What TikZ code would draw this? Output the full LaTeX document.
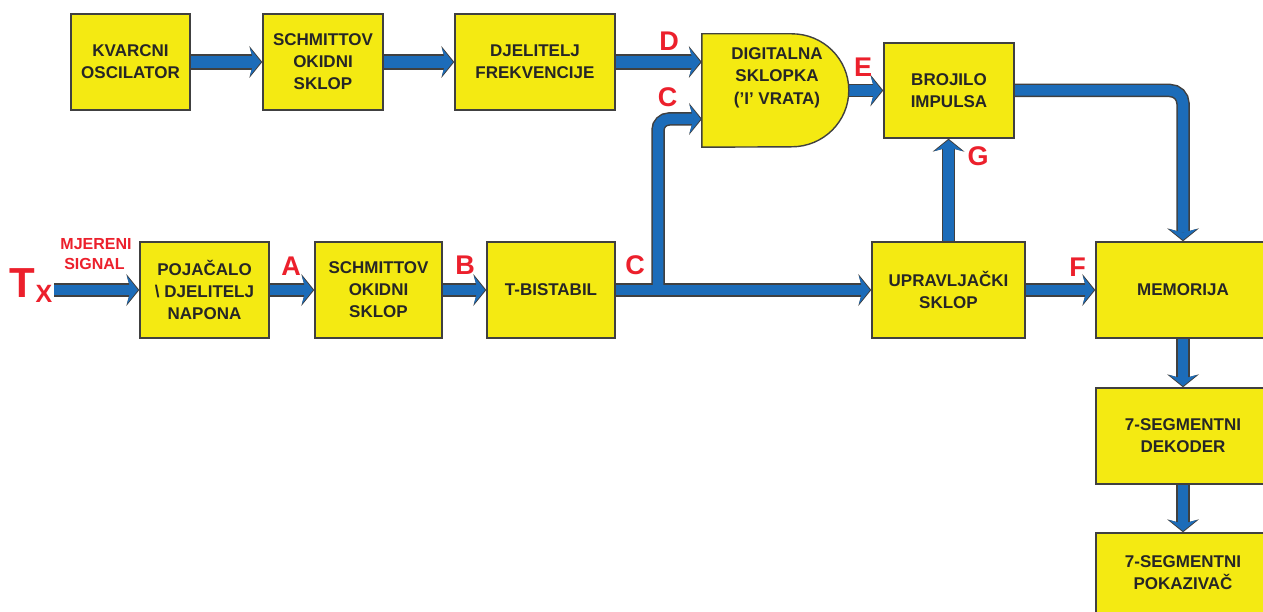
\documentclass[tikz,border=0pt]{standalone}
\usepackage{fontspec}
\setmainfont{Liberation Sans}
\usetikzlibrary{arrows.meta}
\definecolor{yel}{RGB}{244,234,18}
\definecolor{arrblue}{RGB}{28,108,185}
\definecolor{lblred}{RGB}{236,32,44}
\pgfdeclarelayer{bg}
\pgfsetlayers{bg,main}
\newcommand\drawconns[1]{%
  \draw[#1, #1fat] (kvarc.east) -- (sch1.west);
  \draw[#1, #1fat] (sch1.east) -- (djel.west);
  \draw[#1, #1fat] (djel.east) -- (djel.east -| gate.west);
  \draw[#1] (gate.east) -- (broj.west);
  \draw[#1] (txs) -- (poj.west);
  \draw[#1] (poj.east) -- (sch2.west);
  \draw[#1] (sch2.east) -- (tbis.west);
  \draw[#1] (tbis.east) -- (uprav.west);
  \draw[#1, rounded corners=11pt] (jc) -- (jc |- cin) -- (cin);
  \draw[#1] (uprav.north) -- (uprav.north |- broj.south);
  \draw[#1, rounded corners=13pt] (broj.east) -- (broj.east -| mem.north) -- (mem.north);
  \draw[#1] (uprav.east) -- (mem.west);
  \draw[#1] (mem.south) -- (dek.north);
  \draw[#1] (dek.south) -- (pok.north);
}
\begin{document}
\begin{tikzpicture}[x=1pt,y=-1pt,
  box/.style={draw=black!75, line width=1.4pt, fill=yel, minimum width=#1pt,
    minimum height=96pt, inner sep=0pt, align=center, text=black!85,
    font=\bfseries\fontsize{17}{22}\selectfont},
  boxtext/.style={inner sep=0pt, align=center, text=black!85,
    font=\bfseries\fontsize{17}{22.5}\selectfont},
  lbl/.style={inner sep=0pt, text=lblred, font=\bfseries\fontsize{27}{27}\selectfont},
  sig/.style={inner sep=0pt, text=lblred, font=\bfseries\fontsize{16}{16}\selectfont},
  arrout/.style={draw=black!75, line width=13.5pt,
    -{Stealth[length=13pt,width=32pt,inset=4.5pt,line width=0pt]}},
  arrin/.style={draw=arrblue, line width=10.5pt,
    -{Stealth[length=11pt,width=28pt,inset=3.8pt,line width=0pt]}, shorten >=1.4pt},
  arroutfat/.style={line width=15.5pt},
  arrinfat/.style={line width=12.5pt}
]
\useasboundingbox (0,0) rectangle (1263,612);
\clip (0,0) rectangle (1263,612);

% boxes
\node[box=119] (kvarc) at (130.5,62) {KVARCNI\\OSCILATOR};
\node[box=120] (sch1) at (323,62) {SCHMITTOV\\OKIDNI\\SKLOP};
\node[box=160] (djel) at (535,62) {DJELITELJ\\FREKVENCIJE};
\node[inner sep=0pt, minimum width=147pt, minimum height=113pt] (gate) at (775.5,90.5) {};
\draw[draw=black!75, line width=1.4pt, fill=yel, line join=miter] (gate.north west) -- ++(90,0)
  arc[start angle=90, end angle=-90, x radius=57pt, y radius=56.5pt] -- (gate.south west) -- cycle;
\node[boxtext] (gatetext) at (777,77.5) {DIGITALNA\\SKLOPKA\\('I' VRATA)};
\node[box=130, minimum height=95pt] (broj) at (949,90.5) {BROJILO\\IMPULSA};

\node[box=129] (poj) at (204.5,290) {POJAČALO\\\textbackslash\ DJELITELJ\\NAPONA};
\node[box=127] (sch2) at (378.5,290) {SCHMITTOV\\OKIDNI\\SKLOP};
\node[box=128] (tbis) at (551,290) {T-BISTABIL};
\node[box=153] (uprav) at (948.5,290) {UPRAVLJAČKI\\SKLOP};
\node[box=174] (mem) at (1183,290) {MEMORIJA};
\node[box=174] (dek) at (1183,436) {7-SEGMENTNI\\DEKODER};
\node[box=174, minimum height=80pt] (pok) at (1183,573) {7-SEGMENTNI\\POKAZIVAČ};

% connector end points
\coordinate (txs) at (54,290);
\coordinate (jc) at (658,290);
\coordinate (cin) at (702,119);

\begin{pgfonlayer}{bg}
  \fill[white] (0,0) rectangle (1263,612);
  \drawconns{arrout}
  \drawconns{arrin}
\end{pgfonlayer}

% labels
\node[lbl] (lD) at (669,41) {D};
\node[lbl] (lC1) at (667.5,97) {C};
\node[lbl] (lE) at (863,67) {E};
\node[lbl] (lG) at (978,156) {G};
\node[lbl] (lA) at (291,266) {A};
\node[lbl] (lB) at (465,265) {B};
\node[lbl] (lC2) at (635,265) {C};
\node[lbl] (lF) at (1077.5,267) {F};
\node[inner sep=0pt, text=lblred, font=\bfseries\fontsize{42}{42}\selectfont] (tT) at (22.5,283) {T};
\node[inner sep=0pt, text=lblred, font=\bfseries\fontsize{25}{25}\selectfont] (tX) at (44,294) {X};
\node[sig] (sig1) at (96,244) {MJERENI};
\node[sig] (sig2) at (94.5,264) {SIGNAL};
\end{tikzpicture}
\end{document}
